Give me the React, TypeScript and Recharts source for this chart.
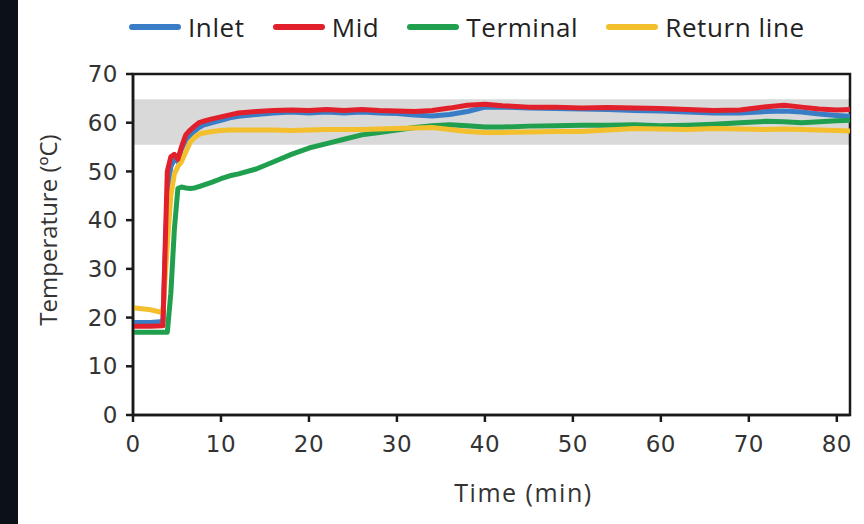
import React from "react";
import { LineChart, Line, XAxis, YAxis, ReferenceArea, Legend } from "recharts";

// time in minutes, shared by all four probes
const TIME = [
  0, 2, 3.4, 3.9, 4.3, 4.7, 5.1, 5.5, 6, 6.5, 7, 7.5, 8, 9, 10, 11, 12, 14, 16, 18,
  20, 22, 24, 26, 28, 30, 32, 34, 36, 38, 40, 42, 45, 48, 51, 54, 57, 60, 63, 66,
  69, 72, 74, 76, 78, 80, 81.5,
];
const INLET = [
  19, 19, 19.2, 45, 51, 52.5, 52, 54.5, 56.5, 57.5, 58.3, 59, 59.5, 60, 60.5, 61, 61.3, 61.7, 62, 62.2,
  62, 62.2, 62, 62.2, 62, 61.9, 61.6, 61.4, 61.7, 62.3, 63.2, 63.2, 63, 62.9, 62.8, 62.7, 62.5, 62.4, 62.2, 62,
  62, 62.3, 62.4, 62.2, 61.8, 61.5, 61.3,
];
const MID = [
  18.2, 18.2, 18.3, 50, 53, 53.5, 52.5, 55, 57.5, 58.5, 59.3, 60, 60.3, 60.8, 61.2, 61.6, 62, 62.3, 62.5, 62.6,
  62.5, 62.7, 62.5, 62.7, 62.5, 62.4, 62.3, 62.5, 63, 63.6, 63.8, 63.5, 63.2, 63.2, 63, 63.1, 63, 62.9, 62.7, 62.5,
  62.6, 63.3, 63.6, 63.2, 62.8, 62.6, 62.7,
];
const TERMINAL = [
  17, 17, 17, 17, 25, 38, 46.5, 46.8, 46.6, 46.5, 46.6, 46.9, 47.2, 47.8, 48.5, 49.1, 49.5, 50.5, 52, 53.5,
  54.8, 55.7, 56.6, 57.5, 58, 58.5, 59, 59.4, 59.6, 59.4, 59.1, 59.1, 59.3, 59.4, 59.5, 59.5, 59.6, 59.4, 59.5, 59.7,
  60, 60.3, 60.2, 60, 60.2, 60.4, 60.5,
];
const RETURN_LINE = [
  22, 21.6, 21, 35, 45, 49.5, 51, 52, 54, 56, 57, 57.6, 57.9, 58.2, 58.4, 58.5, 58.5, 58.5, 58.5, 58.4,
  58.5, 58.6, 58.6, 58.6, 58.7, 58.8, 58.9, 59, 58.6, 58.2, 58, 58, 58.1, 58.2, 58.2, 58.5, 58.8, 58.7, 58.6, 58.8,
  58.7, 58.6, 58.7, 58.6, 58.5, 58.4, 58.3,
];

const X_TICKS = [0, 10, 20, 30, 40, 50, 60, 70, 80];
const Y_TICKS = [0, 10, 20, 30, 40, 50, 60, 70];
const BAND = [55.5, 64.8];

const SERIES = [
  { key: "inlet", name: "Inlet", color: "#3a7dc7" },
  { key: "mid", name: "Mid", color: "#e2202b" },
  { key: "terminal", name: "Terminal", color: "#20a04f" },
  { key: "ret", name: "Return line", color: "#f3bf2c" },
];
// red sits on top in the original
const DRAW_ORDER = ["inlet", "terminal", "ret", "mid"];

const data = TIME.map((t, i) => ({
  t,
  inlet: INLET[i],
  mid: MID[i],
  terminal: TERMINAL[i],
  ret: RETURN_LINE[i],
}));

const INK = "#1a1a1a";
const TEXT = "#333";

function LegendRow() {
  return (
    <div style={{ height: 64 }}>
      <div
        style={{
          display: "flex",
          alignItems: "center",
          height: 34,
          paddingLeft: 111,
          fontFamily: "'Open Sans', sans-serif",
          fontSize: 26,
          color: "#222",
        }}
      >
        {SERIES.map((s) => (
          <div key={s.key} style={{ display: "flex", alignItems: "center", marginRight: 28 }}>
            <span
              style={{
                display: "inline-block",
                width: 52,
                height: 6,
                borderRadius: 3,
                background: s.color,
                marginRight: 7,
              }}
            />
            <span style={{ letterSpacing: 0.6 }}>{s.name}</span>
          </div>
        ))}
      </div>
    </div>
  );
}

function XTitle(props: any) {
  const vb = props.viewBox || {};
  return (
    <text
      x={vb.x + vb.width / 2 + 32}
      y={vb.y + 87}
      textAnchor="middle"
      fill={TEXT}
      fontFamily="'Open Sans', sans-serif"
      fontSize={25}
      letterSpacing={1.5}
    >
      Time (min)
    </text>
  );
}

function YTitle() {
  const x = 39;
  const y = 230;
  return (
    <text
      x={x}
      y={y}
      transform={`rotate(-90, ${x}, ${y})`}
      textAnchor="middle"
      fill={TEXT}
      fontFamily="'Open Sans', sans-serif"
      fontSize={24}
    >
      Temperature (ºC)
    </text>
  );
}

export default function App() {
  const tick = { fill: TEXT, fontSize: 23, fontFamily: "'DejaVu Sans', sans-serif", letterSpacing: 0.5 };
  return (
    <div style={{ position: "fixed", left: 0, top: 0, width: 864, height: 524, background: "#0c1017" }}>
      <div style={{ position: "absolute", left: 18, top: 0, width: 846, height: 524, background: "#fff" }}>
        <LineChart width={846} height={524} data={data} margin={{ top: 10, right: 14, bottom: 49, left: 15 }}>
          <Legend
            verticalAlign="top"
            content={() => <LegendRow />}
            wrapperStyle={{ left: 0, top: 10, width: 846 }}
          />
          <ReferenceArea y1={BAND[0]} y2={BAND[1]} fill="#d9d9d9" fillOpacity={1} stroke="none" />
          <XAxis
            dataKey="t"
            type="number"
            domain={[0, 81.5]}
            ticks={X_TICKS}
            interval={0}
            allowDataOverflow
            height={60}
            tickSize={7}
            tickMargin={14}
            axisLine={{ stroke: INK, strokeWidth: 2.5 }}
            tickLine={{ stroke: INK, strokeWidth: 2.5 }}
            tick={tick}
            label={{ content: XTitle }}
          />
          <YAxis
            type="number"
            domain={[0, 70]}
            ticks={Y_TICKS}
            interval={0}
            width={100}
            tickSize={7}
            tickMargin={8}
            axisLine={{ stroke: INK, strokeWidth: 2.5 }}
            tickLine={{ stroke: INK, strokeWidth: 2.5 }}
            tick={tick}
            label={{ content: YTitle }}
          />
          {DRAW_ORDER.map((k) => {
            const s = SERIES.find((x) => x.key === k)!;
            return (
              <Line
                key={k}
                type="linear"
                dataKey={k}
                name={s.name}
                stroke={s.color}
                strokeWidth={5}
                strokeLinejoin="round"
                dot={false}
                activeDot={false}
                isAnimationActive={false}
              />
            );
          })}
          <ReferenceArea x1={0} x2={81.5} y1={0} y2={70} fill="none" stroke={INK} strokeWidth={2.5} />
        </LineChart>
      </div>
    </div>
  );
}
